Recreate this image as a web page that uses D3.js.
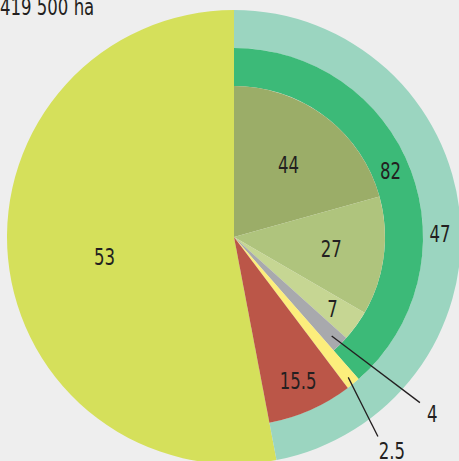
<!DOCTYPE html>
<html>
<head>
<meta charset="utf-8">
<style>
	body { margin: 0; background: #eeeeee; }
	#vis-pie text { font-family: "DejaVu Sans Condensed", "DejaVu Sans", sans-serif; font-stretch: condensed; font-size: 23px; fill: #231f20; }
</style>
</head>
<body>

<!-- HTML -->
<div class='vis' id='vis-pie'></div>

<!-- Imports -->
<script src="https://d3js.org/d3.v7.min.js"></script>

<script>

	// Data //
	// ---- //

	// Whole area split (outer ring vs big slice)
	let outerLabels = ["47", "53"];
	let outerValues = [47, 53];

	// Breakdown of the 47 part
	let innerLabels = ["44", "27", "7", "4", "2.5", "15.5"];
	let innerValues = [44, 27, 7, 4, 2.5, 15.5];

	// Middle ring grouping the first four inner slices
	let ringLabels = ["82", ""];
	let ringValues = [82, 18];

	let totalLabel = "419 500 ha";


	function pievis() {

		// ----- //
		// Setup //
		// ----- //

		let width = 459, height = 461;
		let cx = 234, cy = 237;
		let rOuter = 227, rMid = 189, rInner = 151;

		let svg = d3.select("#vis-pie")
			.append("svg")
				.attr("width", width)
				.attr("height", height)
				.style("display", "block");

		svg.append("rect")
			.attr("width", width)
			.attr("height", height)
			.attr("fill", "#eeeeee");

		let g = svg.append("g")
			.attr("transform", "translate(" + cx + "," + cy + ")");

		// Colors
		let innerColors = ["#9bad68", "#afc47d", "#c6d693", "#a8a9ad", "#fcee7c", "#bb5648"];
		let bigColor = "#d5e05b", tealColor = "#9bd5c0", ringColor = "#3cba78";

		// Pies
		let outerPie = d3.pie().sort(null).value(d => d);
		let outerArcs = outerPie(outerValues);
		let span = outerArcs[0].endAngle;

		let innerArcs = d3.pie().sort(null).value(d => d)
			.startAngle(0).endAngle(span)(innerValues);
		let ringArcs = d3.pie().sort(null).value(d => d)
			.startAngle(0).endAngle(span)(ringValues);

		// Big slice (53)
		g.append("path")
			.attr("d", d3.arc().innerRadius(0).outerRadius(rOuter)(outerArcs[1]))
			.attr("fill", bigColor);

		// Teal ring (47)
		g.append("path")
			.attr("d", d3.arc().innerRadius(rMid).outerRadius(rOuter)(outerArcs[0]))
			.attr("fill", tealColor);

		// Dark green ring (82)
		g.append("path")
			.attr("d", d3.arc().innerRadius(rInner).outerRadius(rMid)(ringArcs[0]))
			.attr("fill", ringColor);

		// Inner slices: the ones in the 82 group stop at the inner radius
		let innerR = (d, i) => i < 4 ? rInner : rMid;
		g.selectAll(".inner")
			.data(innerArcs)
			.enter().append("path")
				.attr("class", "inner")
				.attr("d", (d, i) => d3.arc().innerRadius(0).outerRadius(innerR(d, i))(d))
				.attr("fill", (d, i) => innerColors[i]);

		// Labels //
		// ------ //

		function polar(r, a) {
			return [r * Math.sin(a), -r * Math.cos(a)];
		}
		function mid(d) { return (d.startAngle + d.endAngle) / 2; }

		// narrow text: squeeze the glyphs horizontally
		function label(parent, p, str, anchor) {
			return parent.append("text")
				.attr("transform", "translate(" + p[0] + "," + p[1] + ") scale(0.8,1)")
				.attr("text-anchor", anchor || "middle")
				.attr("dy", anchor ? null : "0.35em")
				.text(str);
		}

		let labelR = [90, 98, 122, null, null, 158];
		innerArcs.forEach(function(d, i) {
			if (labelR[i] === null) return;
			label(g, polar(labelR[i], mid(d)), innerLabels[i]);
		});

		label(g, polar(170, mid(ringArcs[0]) - 0.04), ringLabels[0]);
		label(g, polar(206, mid(outerArcs[0]) + 0.08), outerLabels[0]);
		label(g, polar(131, mid(outerArcs[1]) - 0.06), outerLabels[1]);

		// Callouts for the two thin slices
		let callouts = [
			{i: 3, r0: 139, r1: 249, a1: 131.7, rt: 266, at: 131.8},
			{i: 4, r0: 181, r1: 246, a1: 144.2, rt: 266, at: 143.6}
		];
		callouts.forEach(function(c) {
			let d = innerArcs[c.i];
			let p0 = polar(c.r0, mid(d));
			let p1 = polar(c.r1, c.a1 * Math.PI / 180);
			g.append("line")
				.attr("x1", p0[0]).attr("y1", p0[1])
				.attr("x2", p1[0]).attr("y2", p1[1])
				.attr("stroke", "#231f20")
				.attr("stroke-width", 1.3);
			label(g, polar(c.rt, c.at * Math.PI / 180), innerLabels[c.i]);
		});

		// Total, cut at the top edge
		label(svg, [0, 15], totalLabel, "start");
	}

	let instance_pie = pievis()
</script>
</body>
</html>
